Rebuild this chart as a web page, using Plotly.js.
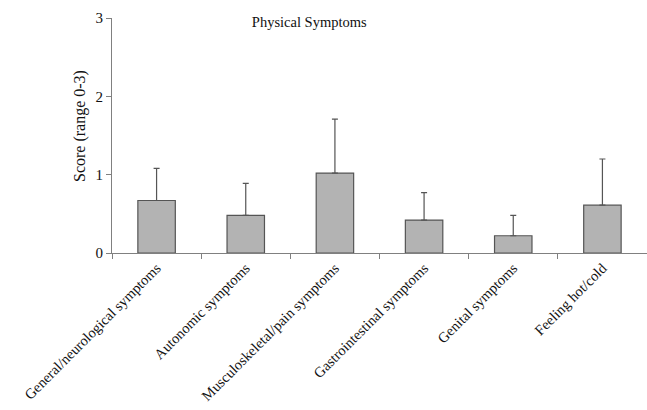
<!DOCTYPE html>
<html>
<head>
<meta charset="utf-8">
<script src="https://cdn.plot.ly/plotly-3.0.1.min.js"></script>
<style>html,body{margin:0;padding:0;background:#fff;}#chart{width:647px;height:410px;}</style>
</head>
<body>
<div id="chart"></div>
<script>
const categories = [
  "General/neurological symptoms",
  "Autonomic symptoms",
  "Musculoskeletal/pain symptoms",
  "Gastrointestinal symptoms",
  "Genital symptoms",
  "Feeling hot/cold"
];
const means = [0.67, 0.48, 1.02, 0.42, 0.22, 0.61];
const sds = [0.41, 0.41, 0.69, 0.35, 0.26, 0.59];
const yTicks = [0, 1, 2, 3];

const serif = "Liberation Serif, Times New Roman, serif";

const trace = {
  type: "bar",
  x: categories,
  y: means,
  width: 0.42,
  marker: {color: "#b3b3b3", line: {color: "#555555", width: 1.2}},
  error_y: {type: "data", array: sds, symmetric: false, arrayminus: means.map(() => 0), visible: true, color: "#555555", thickness: 1.2, width: 3}
};

const layout = {
  width: 647,
  height: 410,
  margin: {l: 112, r: 0, t: 18, b: 157},
  paper_bgcolor: "#ffffff",
  plot_bgcolor: "#ffffff",
  showlegend: false,
  bargap: 0.58,
  font: {family: serif, color: "#111111"},
  title: {
    text: "Physical Symptoms",
    font: {family: serif, size: 14.5, color: "#111111"},
    x: 0.478, xref: "container", xanchor: "center",
    y: 0.946, yref: "container", yanchor: "middle"
  },
  xaxis: {
    type: "category",
    tickangle: -45,
    tickson: "boundaries",
    ticks: "outside",
    ticklen: 5,
    tickcolor: "#808080",
    showline: true,
    linecolor: "#808080",
    linewidth: 1,
    showgrid: false,
    zeroline: false,
    tickfont: {family: serif, size: 14.5, color: "#111111"},
    fixedrange: true
  },
  yaxis: {
    range: [0, 3],
    tickvals: yTicks,
    ticktext: yTicks.map(String),
    ticks: "outside",
    ticklen: 5,
    tickcolor: "#808080",
    showline: true,
    linecolor: "#808080",
    linewidth: 1,
    showgrid: false,
    zeroline: false,
    tickfont: {family: serif, size: 15, color: "#111111"},
    fixedrange: true
  },
  annotations: [{
    text: "Score (range 0-3)",
    xref: "paper", yref: "paper",
    x: -0.06, y: 0.54,
    xanchor: "center", yanchor: "middle",
    textangle: -90,
    showarrow: false,
    font: {family: serif, size: 16, color: "#111111"}
  }]
};

Plotly.newPlot("chart", [trace], layout, {displayModeBar: false, staticPlot: true});
</script>
</body>
</html>
